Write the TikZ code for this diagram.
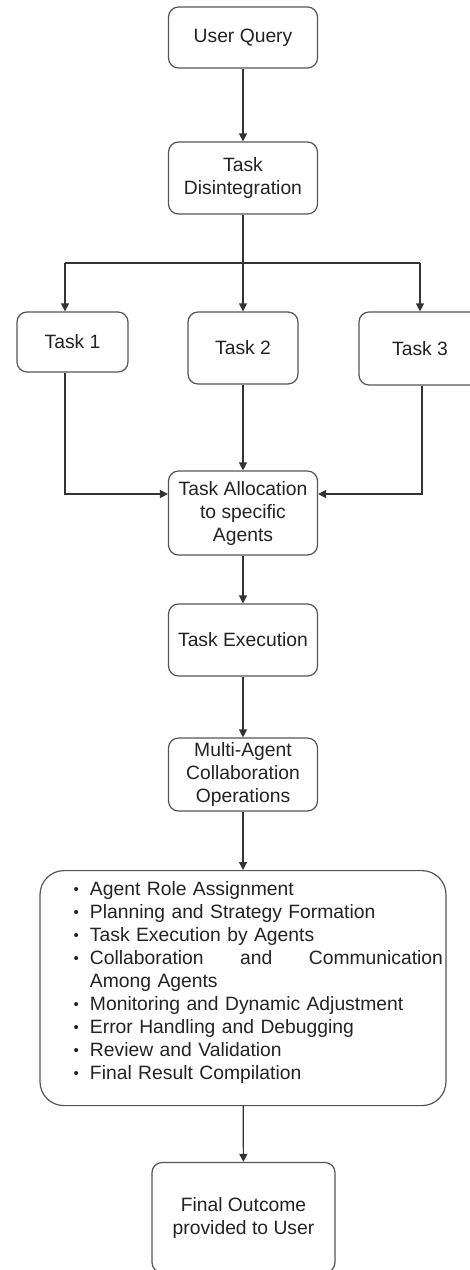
\documentclass[tikz,border=0pt]{standalone}
\usepackage{fontspec}
\setmainfont{Liberation Sans}
\usepackage{tikz}
\usetikzlibrary{positioning,arrows.meta}
\definecolor{boxline}{HTML}{555555}
\definecolor{arrowline}{HTML}{333333}
\definecolor{txt}{HTML}{222222}

\begin{document}
\begin{tikzpicture}[x=1pt,y=-1pt]
\tikzstyle{block}=[rectangle, rounded corners=10pt, draw=boxline, line width=1.2pt, text=txt, align=center, font=\fontsize{19.3}{23}\selectfont, inner sep=2pt]
\tikzstyle{bigblock}=[block, rounded corners=24pt, align=left, text width=400pt, minimum width=406pt, minimum height=233pt, inner xsep=3pt, anchor=north]
\tikzstyle{connect}=[-{Triangle[length=8pt,width=8pt]}, line width=1.2pt, draw=arrowline]
\tikzstyle{wire}=[line width=1.2pt, draw=arrowline]
\useasboundingbox (0,0) rectangle (470,1270);
	\node[block, minimum width=149pt, minimum height=61pt] (query) at (243,37.5) {User Query};
	\node[block, minimum width=149pt, minimum height=72pt] (split) at (243,178) {Task\\Disintegration};
	\node[block, minimum width=111pt, minimum height=60pt] (t_1) at (72.5,342) {Task 1};
	\node[block, minimum width=110pt, minimum height=72pt] (t_2) at (243,348) {Task 2};
	\node[block, minimum width=122pt, minimum height=73pt] (t_3) at (420,348.5) {Task 3};
	\node[block, minimum width=149pt, minimum height=84pt] (alloc) at (243,513) {Task Allocation\\to specific\\Agents};
	\node[block, minimum width=149pt, minimum height=72pt] (exec) at (243,640) {Task Execution};
	\node[block, minimum width=149pt, minimum height=73pt] (collab) at (243,774.5) {Multi-Agent\\Collaboration\\Operations};
	\node[bigblock] (ops) at (243,870) {%
\begin{list}{\raisebox{1.5pt}{\fontsize{15}{15}\selectfont\textbullet}}{\setlength{\leftmargin}{47pt}\setlength{\labelsep}{11pt}\setlength{\itemsep}{0pt}\setlength{\parsep}{0pt}\setlength{\topsep}{0pt}\setlength{\partopsep}{0pt}}
\item Agent Role Assignment
\item Planning and Strategy Formation
\item Task Execution by Agents
\item Collaboration\hfill and\hfill Communication\newline Among Agents
\item Monitoring and Dynamic Adjustment
\item Error Handling and Debugging
\item Review and Validation
\item Final Result Compilation
\end{list}\vspace*{20pt}};
	\node[block, minimum width=183pt, minimum height=110pt] (final) at (243.5,1217.5) {Final Outcome\\provided to User};

	\coordinate (fork_l) at (65,263);
	\coordinate (fork_r) at (420,263);
	\coordinate (join_l) at (65,494);
	\coordinate (join_r) at (422,494);

	\draw[wire] (fork_l) -- (fork_r);
	\draw[connect] (fork_l) -- (fork_l |- t_1.north);
	\draw[connect] (fork_r) -- (fork_r |- t_3.north);
	\draw[connect] (join_l |- t_1.south) -- (join_l) -- (join_l -| alloc.west);
	\draw[connect] (join_r |- t_3.south) -- (join_r) -- (join_r -| alloc.east);

	\path
		(query) edge [connect] (split)
		(split) edge [connect] (t_2)
		(t_2) edge [connect] (alloc)
		(alloc) edge [connect] (exec)
		(exec) edge [connect] (collab)
		(collab) edge [connect] (ops)
		(ops) edge [connect] (final);
\end{tikzpicture}
\end{document}
